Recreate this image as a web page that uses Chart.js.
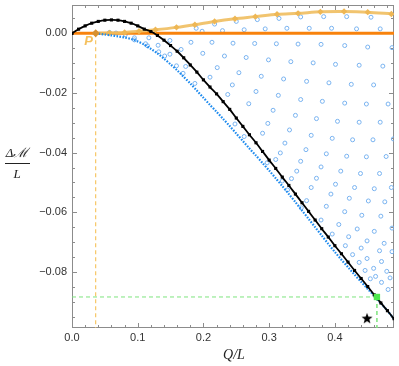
<!DOCTYPE html>
<html lang="en">
<head>
<meta charset="UTF-8">
<title>Mass difference vs charge</title>
<script src="https://cdn.jsdelivr.net/npm/chart.js"></script>
<style>
  html, body { margin: 0; padding: 0; background: #fff; }
</style>
</head>
<body>
<canvas id="chart" width="399" height="366"></canvas>
<script>
// axis ticks
const xTicks = [0, 0.1, 0.2, 0.3, 0.4];
const yTicks = [0, -0.02, -0.04, -0.06, -0.08];

// black curve (with square markers)
const blackX = [0, 0.01, 0.02, 0.03, 0.04, 0.05, 0.06, 0.07, 0.08, 0.09,
  0.10, 0.11, 0.12, 0.13, 0.14, 0.15, 0.16, 0.17, 0.18, 0.19,
  0.20, 0.21, 0.22, 0.23, 0.24, 0.25, 0.26, 0.27, 0.28, 0.29,
  0.30, 0.31, 0.32, 0.33, 0.34, 0.35, 0.36, 0.37, 0.38, 0.39,
  0.40, 0.41, 0.42, 0.43, 0.44, 0.45, 0.46, 0.47, 0.48, 0.49];
const blackY = [0, 0.0014, 0.0025, 0.0034, 0.0040, 0.0044, 0.0045, 0.0044, 0.0040, 0.0034,
  0.0025, 0.0014, 0.0006, -0.0007, -0.0023, -0.0041, -0.0060, -0.0082, -0.0106, -0.0130,
  -0.0156, -0.0180, -0.0203, -0.0229, -0.0255, -0.0284, -0.0312, -0.0340, -0.0367, -0.0396,
  -0.0425, -0.0453, -0.0482, -0.0510, -0.0539, -0.0568, -0.0597, -0.0626, -0.0655, -0.0683,
  -0.0712, -0.0739, -0.0767, -0.0795, -0.0822, -0.0849, -0.0877, -0.0904, -0.0930, -0.0957];

// blue dotted lower envelope
const blueX = [0.036, 0.05, 0.06, 0.07, 0.08, 0.09, 0.10, 0.11, 0.12, 0.13,
  0.14, 0.15, 0.16, 0.17, 0.18, 0.19, 0.20, 0.21, 0.22, 0.23,
  0.24, 0.25, 0.26, 0.27, 0.28, 0.29, 0.30, 0.31, 0.32, 0.33,
  0.34, 0.35, 0.36, 0.37, 0.38, 0.39, 0.40, 0.41, 0.42, 0.43,
  0.44, 0.45, 0.46, 0.47, 0.48, 0.49];
const blueY = [0, -0.0004, -0.0007, -0.0010, -0.0014, -0.0019, -0.0027, -0.0038, -0.0052, -0.0067,
  -0.0085, -0.0104, -0.0124, -0.0146, -0.0168, -0.0192, -0.0216, -0.0240, -0.0263, -0.0287,
  -0.0311, -0.0336, -0.0361, -0.0386, -0.0410, -0.0435, -0.0460, -0.0486, -0.0512, -0.0539,
  -0.0566, -0.0594, -0.0622, -0.0650, -0.0678, -0.0706, -0.0733, -0.0759, -0.0784, -0.0809,
  -0.0833, -0.0857, -0.0880, -0.0905, -0.0930, -0.0958];

// light orange upper curve (diamonds), starting at P
const upperX = [0.036, 0.057, 0.080, 0.102, 0.127, 0.159, 0.187, 0.217, 0.248, 0.279,
  0.312, 0.344, 0.378, 0.414, 0.450, 0.486];
const upperY = [0, 0.0001, 0.0003, 0.0007, 0.0012, 0.0020, 0.0029, 0.0040, 0.0049, 0.0056,
  0.0064, 0.0067, 0.0072, 0.0073, 0.0071, 0.0065];

// scattered open circles
const circX = [
  0.057, 0.067, 0.081, 0.095, 0.095, 0.117, 0.112, 0.115, 0.131, 0.149, 0.132, 0.149, 0.141, 0.159, 0.166, 0.169, 0.173, 0.187, 0.210, 0.189,
  0.217, 0.250, 0.282, 0.315, 0.348, 0.383, 0.418, 0.455,
  0.198, 0.229, 0.262, 0.294, 0.327, 0.361, 0.395, 0.433, 0.469,
  0.181, 0.213, 0.245, 0.278, 0.311, 0.344, 0.379, 0.415, 0.450, 0.487,
  0.199, 0.232, 0.265, 0.299, 0.333, 0.367, 0.401, 0.437, 0.473,
  0.221, 0.254, 0.288, 0.322, 0.357, 0.391, 0.425, 0.459,
  0.244, 0.280, 0.314, 0.348, 0.381, 0.415, 0.448, 0.481,
  0.237, 0.269, 0.306, 0.340, 0.372, 0.404, 0.437, 0.469,
  0.248, 0.298, 0.331, 0.364, 0.396, 0.427, 0.458, 0.489,
  0.262, 0.290, 0.324, 0.356, 0.387, 0.418, 0.448, 0.478,
  0.317, 0.348, 0.379, 0.409, 0.439, 0.468,
  0.297, 0.342, 0.372, 0.401, 0.430, 0.460, 0.486,
  0.310, 0.334, 0.364, 0.394, 0.422, 0.451, 0.476,
  0.320, 0.328, 0.357, 0.387, 0.415, 0.441, 0.470,
  0.349, 0.379, 0.406, 0.434, 0.460, 0.487,
  0.396, 0.421, 0.449, 0.475,
  0.416, 0.440, 0.468, 0.487,
  0.427, 0.449, 0.471,
  0.437, 0.459, 0.479,
  0.446, 0.462, 0.484,
  0.454, 0.471, 0.481];
const circY = [
  0.0003, 0.0001, -0.0005, -0.0015, -0.0022, -0.0015, -0.0035, -0.0042, -0.0040, -0.0024, -0.0062, -0.0070, -0.0076, -0.0109, -0.0054, -0.0134, -0.0111, -0.0168, -0.0147, 0.0017,
  0.0031, 0.0040, 0.0046, 0.0050, 0.0055, 0.0056, 0.0056, 0.0054,
  0.0007, 0.0009, 0.0012, 0.0015, 0.0017, 0.0017, 0.0017, 0.0015, 0.0015,
  -0.0030, -0.0030, -0.0033, -0.0034, -0.0035, -0.0036, -0.0037, -0.0041, -0.0046, -0.0048,
  -0.0067, -0.0076, -0.0081, -0.0089, -0.0095, -0.0099, -0.0104, -0.0107, -0.0110,
  -0.0115, -0.0132, -0.0144, -0.0153, -0.0161, -0.0166, -0.0171, -0.0173,
  -0.0173, -0.0195, -0.0208, -0.0222, -0.0228, -0.0234, -0.0237, -0.0237,
  -0.0205, -0.0236, -0.0258, -0.0275, -0.0286, -0.0295, -0.0298, -0.0298,
  -0.0304, -0.0302, -0.0324, -0.0342, -0.0352, -0.0357, -0.0357, -0.0354,
  -0.0346, -0.0335, -0.0368, -0.0390, -0.0404, -0.0412, -0.0414, -0.0413,
  -0.0401, -0.0429, -0.0448, -0.0462, -0.0470, -0.0470,
  -0.0434, -0.0462, -0.0486, -0.0506, -0.0517, -0.0521, -0.0517,
  -0.0423, -0.0487, -0.0517, -0.0539, -0.0553, -0.0562, -0.0565,
  -0.0495, -0.0525, -0.0561, -0.0580, -0.0598, -0.0610, -0.0613,
  -0.0585, -0.0626, -0.0641, -0.0656, -0.0664, -0.0653,
  -0.0673, -0.0682, -0.0696, -0.0704,
  -0.0712, -0.0720, -0.0729, -0.0732,
  -0.0742, -0.0755, -0.0765,
  -0.0768, -0.0788, -0.0798,
  -0.0795, -0.0815, -0.0820,
  -0.0823, -0.0835, -0.0859];

// special points
const pointP = [0.036, 0];
const greenPoint = [0.464, -0.0884];
const starPoint = [0.449, -0.0955];
const xMax = 0.49, yMin = -0.0988, yMax = 0.0095;

const pts = (xs, ys) => xs.map((x, i) => ({ x: x, y: ys[i] }));

// five-pointed star used as a point style
const starImg = document.createElement('canvas');
starImg.width = 12; starImg.height = 12;
(function () {
  const c = starImg.getContext('2d');
  c.beginPath();
  for (let i = 0; i < 10; i++) {
    const r = i % 2 === 0 ? 5.8 : 2.4;
    const a = -Math.PI / 2 + i * Math.PI / 5;
    const px = 6 + r * Math.cos(a), py = 6.5 + r * Math.sin(a);
    if (i === 0) c.moveTo(px, py); else c.lineTo(px, py);
  }
  c.closePath();
  c.fillStyle = '#000';
  c.fill();
})();

// frame with inward ticks on all four sides
const frame = {
  id: 'frame',
  beforeDatasetsDraw(chart) {
    const { ctx, chartArea: a, scales: { x, y } } = chart;
    ctx.save();
    ctx.strokeStyle = '#8c8c8c';
    ctx.lineWidth = 1;
    ctx.strokeRect(a.left + 0.5, a.top + 0.5, a.right - a.left - 1, a.bottom - a.top - 1);
    ctx.beginPath();
    for (let i = 0; i <= 24; i++) {
      const px = Math.round(x.getPixelForValue(i * 0.02)) + 0.5;
      const len = i % 5 === 0 ? 5 : 3;
      ctx.moveTo(px, a.bottom); ctx.lineTo(px, a.bottom - len);
      ctx.moveTo(px, a.top); ctx.lineTo(px, a.top + len);
    }
    for (let i = -19; i <= 1; i++) {
      const py = Math.round(y.getPixelForValue(i * 0.005)) + 0.5;
      const len = i % 4 === 0 ? 5 : 3;
      ctx.moveTo(a.left, py); ctx.lineTo(a.left + len, py);
      ctx.moveTo(a.right, py); ctx.lineTo(a.right - len, py);
    }
    ctx.stroke();
    ctx.restore();
  }
};

// axis titles and the P label
const labels = {
  id: 'labels',
  afterDraw(chart) {
    const { ctx, scales: { x, y } } = chart;
    ctx.save();
    ctx.fillStyle = '#222';
    ctx.textAlign = 'center';
    ctx.font = 'italic 14px "Liberation Serif", "DejaVu Serif", serif';
    ctx.fillText('Q/L', 234, 359);
    ctx.font = 'italic 13px "Liberation Serif", "DejaVu Serif", serif';
    ctx.fillText('Δℳ', 17, 157);
    ctx.fillText('L', 17, 178);
    ctx.fillRect(5, 163, 25, 1);
    ctx.fillStyle = '#f5c05c';
    ctx.font = 'italic bold 13px "Liberation Sans", sans-serif';
    ctx.fillText('P', x.getPixelForValue(pointP[0]) - 7, y.getPixelForValue(pointP[1]) + 12);
    ctx.restore();
  }
};

new Chart(document.getElementById('chart'), {
  type: 'scatter',
  data: {
    datasets: [
      { // green marked point
        data: [{ x: greenPoint[0], y: greenPoint[1] }],
        pointStyle: 'rect', pointRadius: 4.5, backgroundColor: '#4ee84e', borderWidth: 0, order: 0
      },
      { // star
        data: [{ x: starPoint[0], y: starPoint[1] }],
        pointStyle: starImg, order: 0
      },
      { // point P
        data: [{ x: pointP[0], y: pointP[1] }],
        pointStyle: 'rectRot', pointRadius: 4, backgroundColor: '#d8902e', borderWidth: 0, order: 0
      },
      { // black curve
        data: pts(blackX, blackY), showLine: true,
        borderColor: '#000', borderWidth: 1.8, tension: 0.3,
        pointStyle: 'rect', pointRadius: 2.2, backgroundColor: '#000', pointBorderWidth: 0, order: 1
      },
      { // blue dotted envelope
        data: pts(blueX, blueY), showLine: true,
        borderColor: '#1f8bee', borderWidth: 2.2, borderDash: [1.6, 1.4], tension: 0.3,
        pointRadius: 0, order: 2
      },
      { // light orange curve
        data: pts(upperX, upperY), showLine: true,
        borderColor: 'rgba(240,190,95,0.9)', borderWidth: 3, tension: 0.3,
        pointStyle: 'rectRot', pointRadius: 3.2, backgroundColor: '#eeb755', pointBorderWidth: 0, order: 3
      },
      { // orange zero line
        data: [{ x: 0, y: 0 }, { x: xMax, y: 0 }], showLine: true,
        borderColor: '#f8820c', borderWidth: 3, pointRadius: 0, order: 4
      },
      { // open circles
        data: pts(circX, circY),
        pointStyle: 'circle', pointRadius: 2, borderColor: '#79b3f0', borderWidth: 1,
        backgroundColor: 'rgba(0,0,0,0)', order: 5
      },
      { // dashed guides
        data: [{ x: 0, y: greenPoint[1] }, { x: greenPoint[0], y: greenPoint[1] }], showLine: true,
        borderColor: '#7de47d', borderWidth: 1, borderDash: [4, 3], pointRadius: 0, order: 6
      },
      {
        data: [{ x: greenPoint[0], y: greenPoint[1] }, { x: greenPoint[0], y: yMin }], showLine: true,
        borderColor: '#7de47d', borderWidth: 1.5, borderDash: [4, 3], pointRadius: 0, order: 6
      },
      {
        data: [{ x: pointP[0], y: pointP[1] }, { x: pointP[0], y: yMin }], showLine: true,
        borderColor: '#f7c766', borderWidth: 1.2, borderDash: [4, 3], pointRadius: 0, order: 6
      }
    ]
  },
  options: {
    responsive: false,
    animation: false,
    devicePixelRatio: 1,
    layout: { padding: { top: 0, right: 1, left: 0, bottom: 0 } },
    plugins: { legend: { display: false }, tooltip: { enabled: false } },
    scales: {
      x: {
        type: 'linear', min: 0, max: xMax,
        grid: { display: false, drawTicks: false },
        border: { display: false },
        afterBuildTicks: s => { s.ticks = xTicks.map(v => ({ value: v })); },
        afterFit: s => { s.height = 38; s.paddingLeft = 0; s.paddingRight = 0; },
        ticks: {
          padding: 3, maxRotation: 0, color: '#333',
          font: { family: 'Liberation Sans', size: 11 },
          callback: v => v.toFixed(1)
        }
      },
      y: {
        type: 'linear', min: yMin, max: yMax,
        grid: { display: false, drawTicks: false },
        border: { display: false },
        afterBuildTicks: s => { s.ticks = yTicks.map(v => ({ value: v })); },
        afterFit: s => { s.width = 72; s.paddingTop = 0; s.paddingBottom = 0; },
        ticks: {
          padding: 5, color: '#333',
          font: { family: 'Liberation Sans', size: 11 },
          callback: v => v === 0 ? '0.00' : '\u2212' + (-v).toFixed(2)
        }
      }
    }
  },
  plugins: [frame, labels]
});
</script>
</body>
</html>
